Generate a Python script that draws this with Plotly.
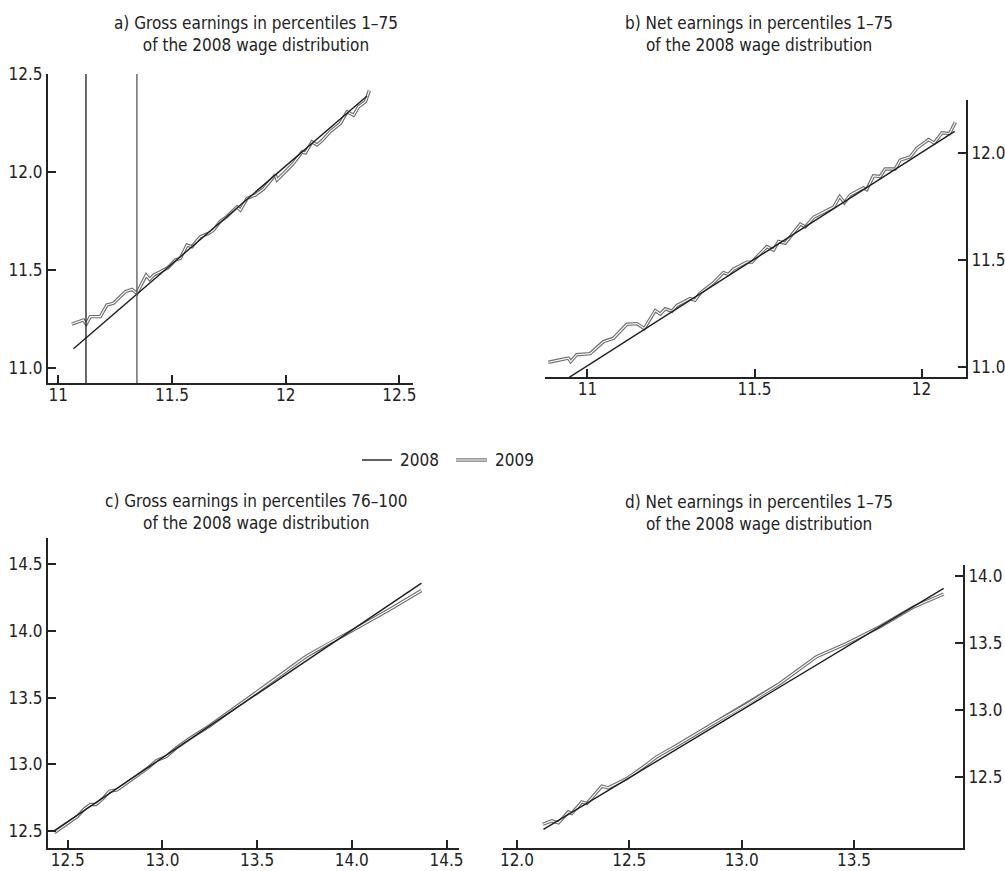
import plotly.graph_objects as go

FONT = "DejaVu Sans Condensed, Liberation Sans Narrow, Roboto Condensed, Arial Narrow, sans-serif"

# ---------------- data ----------------
# Panel a) Gross earnings, percentiles 1-75
A_X08 = [11.067, 12.358]
A_Y08 = [11.097, 12.388]
A_X09 = [11.060, 11.085, 11.111, 11.123, 11.141, 11.185, 11.214, 11.243, 11.270, 11.295,
         11.324, 11.346, 11.368, 11.387, 11.402, 11.419, 11.449, 11.485, 11.515, 11.537,
         11.566, 11.588, 11.625, 11.661, 11.683, 11.713, 11.742, 11.786, 11.801, 11.830,
         11.867, 11.903, 11.955, 11.962, 12.006, 12.035, 12.072, 12.087, 12.116, 12.138,
         12.160, 12.197, 12.241, 12.270, 12.299, 12.321, 12.351, 12.368]
A_Y09 = [11.223, 11.233, 11.244, 11.223, 11.261, 11.261, 11.320, 11.329, 11.360, 11.388,
         11.400, 11.380, 11.431, 11.473, 11.451, 11.473, 11.490, 11.513, 11.550, 11.559,
         11.626, 11.618, 11.669, 11.686, 11.703, 11.748, 11.772, 11.822, 11.805, 11.865,
         11.882, 11.913, 11.985, 11.959, 12.010, 12.045, 12.102, 12.097, 12.154, 12.138,
         12.160, 12.207, 12.248, 12.307, 12.289, 12.333, 12.359, 12.415]
A_VLINES = [11.122, 11.346]

# Panel b) Net earnings, percentiles 1-75
B_X08 = [10.890, 12.099]
B_Y08 = [10.897, 12.100]
B_X09 = [10.883, 10.943, 10.950, 10.968, 11.008, 11.048, 11.078, 11.118, 11.148, 11.170,
         11.203, 11.218, 11.233, 11.253, 11.268, 11.307, 11.322, 11.337, 11.377, 11.407,
         11.422, 11.437, 11.477, 11.492, 11.537, 11.557, 11.572, 11.592, 11.612, 11.637,
         11.652, 11.677, 11.737, 11.755, 11.769, 11.787, 11.826, 11.836, 11.856, 11.876,
         11.891, 11.921, 11.936, 11.966, 11.986, 12.021, 12.038, 12.061, 12.084, 12.101]
B_Y09 = [11.023, 11.042, 11.026, 11.058, 11.063, 11.119, 11.135, 11.200, 11.203, 11.180,
         11.264, 11.248, 11.272, 11.261, 11.288, 11.320, 11.312, 11.345, 11.393, 11.441,
         11.433, 11.457, 11.490, 11.490, 11.562, 11.546, 11.586, 11.578, 11.618, 11.667,
         11.654, 11.699, 11.747, 11.796, 11.767, 11.804, 11.836, 11.828, 11.892, 11.889,
         11.924, 11.924, 11.965, 11.981, 12.021, 12.061, 12.045, 12.093, 12.090, 12.142]

# Panel c) Gross earnings, percentiles 76-100
C_X08 = [12.424, 14.368]
C_Y08 = [12.500, 14.357]
C_X09 = [12.430, 12.470, 12.520, 12.550, 12.590, 12.620, 12.650, 12.690, 12.720, 12.760,
         12.800, 12.860, 12.920, 12.970, 13.020, 13.070, 13.150, 13.250, 13.400, 13.550,
         13.760, 13.900, 14.000, 14.200, 14.368]
C_Y09 = [12.490, 12.530, 12.580, 12.610, 12.670, 12.700, 12.700, 12.750, 12.800, 12.810,
         12.850, 12.910, 12.970, 13.030, 13.060, 13.120, 13.200, 13.290, 13.440, 13.595,
         13.810, 13.925, 14.000, 14.160, 14.302]

# Panel d) Net earnings
D_X08 = [12.118, 13.899]
D_Y08 = [12.113, 13.908]
D_X09 = [12.115, 12.155, 12.185, 12.229, 12.244, 12.289, 12.311, 12.378, 12.407, 12.489,
         12.563, 12.622, 12.726, 12.874, 13.022, 13.170, 13.333, 13.467, 13.615, 13.763,
         13.899]
D_Y09 = [12.152, 12.177, 12.162, 12.244, 12.232, 12.318, 12.306, 12.435, 12.423, 12.492,
         12.579, 12.654, 12.753, 12.902, 13.044, 13.200, 13.399, 13.498, 13.622, 13.767,
         13.866]

TITLES = [
    "a) Gross earnings in percentiles 1\u201375<br>of the 2008 wage distribution",
    "b) Net earnings in percentiles 1\u201375<br>of the 2008 wage distribution",
    "c) Gross earnings in percentiles 76\u2013100<br>of the 2008 wage distribution",
    "d) Net earnings in percentiles 1\u201375<br>of the 2008 wage distribution",
]
LEGEND_LABELS = ["2008", "2009"]

A_XTICKS = [11, 11.5, 12, 12.5];            A_XTEXT = ["11", "11.5", "12", "12.5"]
A_YTICKS = [11.0, 11.5, 12.0, 12.5];        A_YTEXT = ["11.0", "11.5", "12.0", "12.5"]
B_XTICKS = [11, 11.5, 12];                  B_XTEXT = ["11", "11.5", "12"]
B_YTICKS = [11.0, 11.5, 12.0];              B_YTEXT = ["11.0", "11.5", "12.0"]
C_XTICKS = [12.5, 13.0, 13.5, 14.0, 14.5];  C_XTEXT = ["12.5", "13.0", "13.5", "14.0", "14.5"]
C_YTICKS = [12.5, 13.0, 13.5, 14.0, 14.5];  C_YTEXT = ["12.5", "13.0", "13.5", "14.0", "14.5"]
D_XTICKS = [12.0, 12.5, 13.0, 13.5];        D_XTEXT = ["12.0", "12.5", "13.0", "13.5"]
D_YTICKS = [12.5, 13.0, 13.5, 14.0];        D_YTEXT = ["12.5", "13.0", "13.5", "14.0"]

# ---------------- figure ----------------
W, H = 1005, 871
BLACK = "#1c1c1c"
GREY = "#6f6f6f"
AXC = "#232323"
FS = 17

fig = go.Figure()

panels = [
    (A_X08, A_Y08, A_X09, A_Y09, "x", "y"),
    (B_X08, B_Y08, B_X09, B_Y09, "x2", "y2"),
    (C_X08, C_Y08, C_X09, C_Y09, "x3", "y3"),
    (D_X08, D_Y08, D_X09, D_Y09, "x4", "y4"),
]

for x08, y08, x09, y09, xr, yr in panels:
    fig.add_trace(go.Scatter(x=x09, y=y09, mode="lines", xaxis=xr, yaxis=yr,
                             line=dict(color=GREY, width=3.4), showlegend=False, hoverinfo="skip"))
    fig.add_trace(go.Scatter(x=x09, y=y09, mode="lines", xaxis=xr, yaxis=yr,
                             line=dict(color="white", width=1.1), showlegend=False, hoverinfo="skip"))
    fig.add_trace(go.Scatter(x=x08, y=y08, mode="lines", xaxis=xr, yaxis=yr,
                             line=dict(color=BLACK, width=1.4), showlegend=False, hoverinfo="skip"))

# vertical reference lines in panel a
vcols = ["#1c1c1c", "#555555"]
for v, c in zip(A_VLINES, vcols):
    fig.add_shape(type="line", xref="x", yref="y domain", x0=v, x1=v, y0=0, y1=1,
                  line=dict(color=c, width=1.3))


def px(v):
    return v / W


def py(v):
    return 1 - v / H


def axis(domain, rng, tickvals, ticktext, **kw):
    d = dict(domain=domain, range=rng, tickvals=tickvals, ticktext=ticktext,
             showline=True, linecolor=AXC, linewidth=2,
             ticks="inside", ticklen=8, tickwidth=2, tickcolor=AXC,
             showgrid=False, zeroline=False, automargin=False,
             tickfont=dict(family=FONT, size=FS, color="#222"))
    d.update(kw)
    return d


fig.update_layout(
    width=W, height=H,
    margin=dict(l=0, r=0, t=0, b=0, pad=0),
    paper_bgcolor="white", plot_bgcolor="white",
    showlegend=False,
    xaxis=axis([px(48), px(413)], [10.955, 12.560], A_XTICKS, A_XTEXT, anchor="y", ticklabelstandoff=-4),
    yaxis=axis([py(383), py(74)], [10.922, 12.5], A_YTICKS, A_YTEXT, anchor="x"),
    xaxis2=axis([px(545), px(966)], [10.873, 12.133], B_XTICKS, B_XTEXT, anchor="y2", ticklabelstandoff=-4),
    yaxis2=axis([py(377), py(100)], [10.954, 12.246], B_YTICKS, B_YTEXT, anchor="x2", side="right"),
    xaxis3=axis([px(48), px(459)], [12.396, 14.566], C_XTICKS, C_XTEXT, anchor="y3", ticklabelstandoff=-4),
    yaxis3=axis([py(848), py(538)], [12.375, 14.695], C_YTICKS, C_YTEXT, anchor="x3"),
    xaxis4=axis([px(503), px(963)], [11.938, 13.985], D_XTICKS, D_XTEXT, anchor="y4", ticklabelstandoff=-4),
    yaxis4=axis([py(848), py(565)], [11.975, 14.082], D_YTICKS, D_YTEXT, anchor="x4", side="right"),
)

# panel titles
title_pos = [(256, 34), (759, 34), (256, 512), (759, 513)]
for t, (tx, ty) in zip(TITLES, title_pos):
    fig.add_annotation(text=t, x=px(tx), y=py(ty), xref="paper", yref="paper",
                       xanchor="center", yanchor="middle", showarrow=False, align="center",
                       font=dict(family=FONT, size=FS, color="#222"))

# manual legend
ly = py(460)
fig.add_shape(type="line", xref="paper", yref="paper", x0=px(362), x1=px(392), y0=ly, y1=ly,
              line=dict(color=BLACK, width=1.4))
fig.add_shape(type="line", xref="paper", yref="paper", x0=px(456), x1=px(487), y0=ly, y1=ly,
              line=dict(color=GREY, width=3.4))
fig.add_shape(type="line", xref="paper", yref="paper", x0=px(456), x1=px(487), y0=ly, y1=ly,
              line=dict(color="white", width=1.1))
for lab, lx in zip(LEGEND_LABELS, [398, 493]):
    fig.add_annotation(text=lab, x=px(lx), y=ly, xref="paper", yref="paper",
                       xanchor="left", yanchor="middle", showarrow=False,
                       font=dict(family=FONT, size=FS, color="#222"))

fig.write_html("out.html")
